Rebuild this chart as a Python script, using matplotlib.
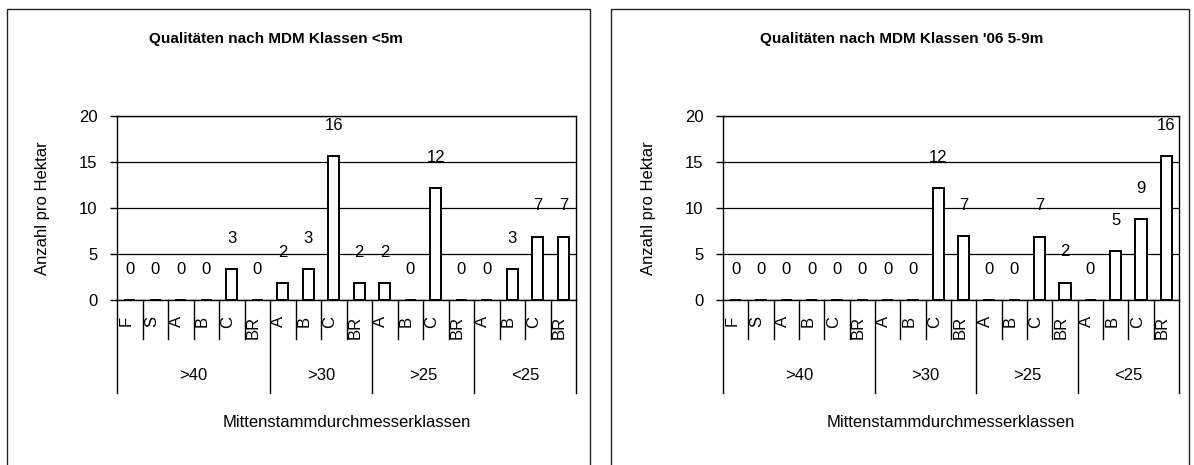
import matplotlib.pyplot as plt
import matplotlib.transforms as mtransforms
from matplotlib import font_manager
from matplotlib.patches import Rectangle
import numpy as np

# pick a narrow Arial-like font if there is one
names = {f.name for f in font_manager.fontManager.ttflist}
if 'Liberation Sans Narrow' in names:
    plt.rcParams['font.family'] = ['Liberation Sans Narrow', 'DejaVu Sans']
    fs = 13
else:
    plt.rcParams['font.family'] = ['Liberation Sans', 'DejaVu Sans']
    fs = 12

categories = ['F', 'S', 'A', 'B', 'C', 'BR',
              'A', 'B', 'C', 'BR',
              'A', 'B', 'C', 'BR',
              'A', 'B', 'C', 'BR']
groups = ['>40', '>30', '>25', '<25']
group_sizes = [6, 4, 4, 4]

values_5m = [0, 0, 0, 0, 3.4, 0,
             1.8, 3.4, 15.6, 1.8,
             1.8, 0, 12.2, 0,
             0, 3.4, 6.9, 6.9]
values_06 = [0, 0, 0, 0, 0, 0,
             0, 0, 12.2, 7.0,
             0, 0, 6.9, 1.9,
             0, 5.3, 8.8, 15.7]

titles = ['Qualitäten nach MDM Klassen <5m', "Qualitäten nach MDM Klassen '06 5-9m"]
ylabel = 'Anzahl pro Hektar'
xlabel = 'Mittenstammdurchmesserklassen'

W, H = 1194, 465
fig = plt.figure(figsize=(W / 100, H / 100), dpi=100)


def fx(px):
    return px / W


def fy(py):
    return 1 - py / H


panels = [
    # axes left, right (px), box left, right (px), title centre x (px)
    dict(ax=(117, 576), box=(7, 590), tx=276),
    dict(ax=(723, 1179), box=(611, 1189), tx=902),
]
ax_top, ax_bot = 116, 300

for p, vals, title in zip(panels, [values_5m, values_06], titles):
    # frame round each chart
    bl, br = p['box']
    fig.patches.append(Rectangle((fx(bl), fy(H + 10)), fx(br - bl), fy(9) - fy(H + 10),
                                 transform=fig.transFigure, fill=False,
                                 edgecolor='#222222', linewidth=1.0))

    l, r = p['ax']
    ax = fig.add_axes([fx(l), fy(ax_bot), fx(r - l), fy(ax_top) - fy(ax_bot)])
    x = np.arange(len(categories))
    ax.bar(x, vals, width=0.45, color='white', edgecolor='black', linewidth=1.4, zorder=3)
    for xi, v in zip(x, vals):
        ax.annotate('%d' % round(v), (xi, v), xytext=(0, 22), textcoords='offset points',
                    ha='center', va='center', fontsize=fs, zorder=4)

    ax.set_xlim(-0.5, len(categories) - 0.5)
    ax.set_ylim(0, 20)
    ax.set_yticks([0, 5, 10, 15, 20])
    ax.tick_params(axis='y', length=5, width=1, pad=9, labelsize=fs, direction='out')
    ax.set_xticks([])
    ax.yaxis.grid(True, color='black', linewidth=0.9, zorder=1)
    for s in ax.spines.values():
        s.set_linewidth(1.0)
        s.set_color('black')

    trans = mtransforms.blended_transform_factory(ax.transData, ax.transAxes)
    # category labels, rotated, in cells
    for i, c in enumerate(categories):
        ax.annotate(c, (i - 0.5, 0), xycoords=trans, xytext=(1.0, -11.5),
                    textcoords='offset points', rotation=90, ha='left', va='top',
                    fontsize=fs, annotation_clip=False)
    # cell separators
    edges = np.cumsum([0] + group_sizes) - 0.5
    for i in range(len(categories) + 1):
        b = i - 0.5
        depth = -0.505 if b in edges else -0.212
        ax.plot([b, b], [0, depth], transform=trans, color='black', linewidth=1.0,
                clip_on=False)
    # group labels
    for g, a, b in zip(groups, edges[:-1], edges[1:]):
        ax.annotate(g, ((a + b) / 2, 0), xycoords=trans, xytext=(0, -54),
                    textcoords='offset points', ha='center', va='center',
                    fontsize=fs, annotation_clip=False)
    ax.annotate(xlabel, (0.5, 0), xycoords='axes fraction', xytext=(0, -88),
                textcoords='offset points', ha='center', va='center', fontsize=fs)
    ax.text(-74 / (r - l), 0.5, ylabel,
            transform=ax.transAxes, rotation=90, ha='center', va='center', fontsize=fs)

    fig.text(fx(p['tx']), fy(39), title, ha='center', va='center',
             fontsize=11, fontweight='bold')

fig.savefig('out.png', dpi=100)
